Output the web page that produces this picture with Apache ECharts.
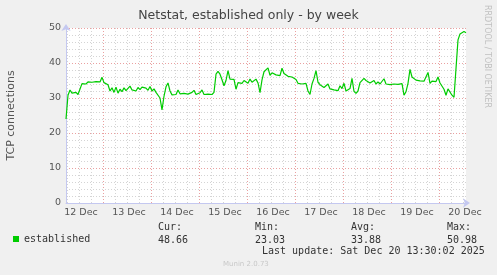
<!DOCTYPE html>
<html>
<head>
<meta charset="utf-8">
<script src="https://cdn.jsdelivr.net/npm/echarts@6.0.0/dist/echarts.min.js"></script>
<style>
html,body{margin:0;padding:0;background:#f0f0f0;}
#chart{width:497px;height:275px;}
</style>
</head>
<body>
<div id="chart"></div>
<script>
// ---- data ----
const seriesName = 'established';
const startTime = new Date(2025, 11, 12, 5, 30).getTime(); // first sample
const stepMs = 3600 * 1000; // one sample per hour
const endTime = new Date(2025, 11, 20, 13, 30).getTime();
const monthNames = ['Jan','Feb','Mar','Apr','May','Jun','Jul','Aug','Sep','Oct','Nov','Dec'];
const yTicks = [0, 10, 20, 30, 40, 50];
const established = [
  24.0, 30.8, 32.3, 31.4, 30.9, 31.6, 31.0, 31.3, 34.1, 34.4,
  34.0, 34.6, 34.2, 34.5, 34.0, 34.7, 34.3, 34.6, 35.9, 34.4,
  34.3, 33.8, 32.0, 32.9, 31.6, 33.1, 31.4, 32.5, 31.8, 32.9,
  32.1, 32.6, 33.4, 32.3, 32.8, 32.0, 33.0, 32.4, 33.1, 32.6,
  32.8, 32.2, 33.3, 32.0, 32.6, 31.6, 31.9, 30.0, 26.6, 30.5,
  33.2, 34.3, 32.0, 30.9, 31.2, 31.0, 32.3, 31.2, 31.6, 31.3,
  31.5, 31.1, 31.3, 31.6, 32.2, 31.0, 31.3, 31.5, 32.3, 31.0,
  31.4, 31.1, 31.3, 31.0, 31.6, 36.8, 37.6, 36.8, 35.2, 33.5,
  35.0, 37.8, 35.4, 35.0, 35.3, 32.5, 34.4, 34.8, 34.2, 35.0,
  34.6, 34.2, 35.4, 34.5, 34.8, 35.4, 34.3, 31.5, 35.2, 37.5,
  38.0, 38.6, 36.5, 37.2, 37.5, 36.6, 37.0, 36.4, 38.5, 37.0,
  36.8, 36.2, 36.6, 36.0, 36.5, 35.3, 34.2, 34.6, 34.0, 34.5,
  34.2, 32.0, 31.0, 34.0, 35.6, 37.8, 34.5, 33.8, 34.2, 33.0,
  32.6, 34.0, 32.6, 33.0, 32.3, 32.8, 32.1, 33.5, 32.7, 34.2,
  32.0, 31.6, 32.7, 35.6, 31.9, 31.3, 32.0, 34.4, 34.8, 35.6,
  35.0, 34.6, 34.3, 34.8, 35.0, 34.0, 34.6, 34.0, 33.9, 35.5,
  34.0, 34.2, 33.8, 34.1, 34.0, 34.3, 33.9, 34.4, 34.1, 30.8,
  31.8, 34.2, 38.2, 36.0, 36.3, 35.1, 34.6, 34.9, 34.4, 34.8,
  34.5, 37.3, 34.2, 34.8, 34.4, 34.7, 36.0, 34.3, 34.0, 32.5,
  30.8, 32.6, 32.2, 30.8, 30.2, 29.7, 46.6, 48.3, 48.6, 49.0, 48.66
];
const statLabels = ['Cur:', 'Min:', 'Avg:', 'Max:'];
const statValues = ['48.66', '23.03', '33.88', '50.98'];
const lastUpdate = 'Last update: Sat Dec 20 13:30:02 2025';
const titleText = 'Netstat, established only - by week';
const yAxisTitle = 'TCP connections';
const sideText = 'RRDTOOL / TOBI OETIKER';
const footerText = 'Munin 2.0.73';

// ---- build ----
const points = established.map((v, i) => [startTime + i * stepMs, v]);
// half-hour slots across the time range, used only to place grid lines and day labels
const halfHour = stepMs / 2;
const slots = [];
for (let t = startTime; t <= endTime; t += halfHour) slots.push(t);
const hourOf = (t) => new Date(t).getHours();
const minOf = (t) => new Date(t).getMinutes();
const isSixHour = (i) => minOf(slots[i]) === 0 && hourOf(slots[i]) % 6 === 0;
const isMidnight = (i) => minOf(slots[i]) === 0 && hourOf(slots[i]) === 0;
const isNoon = (i) => minOf(slots[i]) === 0 && hourOf(slots[i]) === 12;

const axisColor = '#c4c8f0';
const textColor = '#555555';
const mono = '"DejaVu Sans Mono", monospace';
const sans = '"DejaVu Sans", sans-serif';
const statX = [158, 255, 351, 447];

const graphics = [];
statLabels.forEach((t, i) => {
  graphics.push({type:'text', x: statX[i], y: 227, style:{text: t, font: '10px ' + mono, fill:'#333', textVerticalAlign:'middle'}});
  graphics.push({type:'text', x: statX[i], y: 240, style:{text: statValues[i], font: '10px ' + mono, fill:'#333', textVerticalAlign:'middle'}});
});
graphics.push({type:'text', x: 262, y: 251, style:{text: lastUpdate, font: '10px ' + mono, fill:'#333', textVerticalAlign:'middle'}});
graphics.push({type:'text', x: 223, y: 264, style:{text: footerText, font: '7px ' + sans, fill:'#c8c8c8', textVerticalAlign:'middle'}});
graphics.push({type:'text', x: 487, y: 5, rotation: -Math.PI/2, style:{text: sideText, font: '8px ' + sans, fill:'#c0c0c0', textAlign:'left', textVerticalAlign:'middle'}});

const chart = echarts.init(document.getElementById('chart'), null, {renderer:'canvas'});
chart.setOption({
  backgroundColor: '#f0f0f0',
  animation: false,
  title: {
    text: titleText, left: 'center', top: 4,
    textStyle: {fontFamily: sans, fontSize: 12.5, fontWeight: 'normal', color: '#444'}
  },
  legend: {
    data: [seriesName], left: 13, top: 234, padding: 0,
    icon: 'rect', itemWidth: 6, itemHeight: 6,
    textStyle: {fontFamily: mono, fontSize: 10, color: '#333'}
  },
  grid: {left: 66, top: 28, width: 400, height: 175, show: true, backgroundColor: '#ffffff', borderWidth: 0,
         containLabel: false, outerBoundsMode: 'none'},
  xAxis: [{
    // data axis
    type: 'time', min: startTime, max: endTime,
    axisLine: {show: true, lineStyle: {color: axisColor, width: 1}, symbol: ['none', 'arrow'], symbolSize: [7, 7], symbolOffset: [0, 4]},
    axisTick: {show: false}, axisLabel: {show: false}, splitLine: {show: false}
  }, {
    // 6-hour minor grid and day labels
    type: 'category', data: slots, boundaryGap: false, position: 'bottom',
    axisLine: {show: false}, axisTick: {show: false},
    splitLine: {show: true, interval: (i) => isSixHour(i), lineStyle: {color: '#d4d4d4', type: [1, 2], width: 1}},
    axisLabel: {
      show: true, interval: (i) => isNoon(i), margin: 5, color: textColor, fontFamily: sans, fontSize: 9.5,
      hideOverlap: false, padding: [0, 0, 0, 4],
      formatter: function (value) {
        const d = new Date(Number(value));
        return d.getDate() + ' ' + monthNames[d.getMonth()];
      }
    }
  }, {
    // day boundaries (major grid)
    type: 'category', data: slots, boundaryGap: false, position: 'bottom',
    axisLine: {show: false}, axisTick: {show: false}, axisLabel: {show: false},
    splitLine: {show: true, interval: (i) => isMidnight(i), lineStyle: {color: '#eaa0a0', type: [1, 2], width: 1}}
  }],
  yAxis: {
    type: 'value', min: yTicks[0], max: yTicks[yTicks.length - 1], interval: 10,
    name: yAxisTitle, nameLocation: 'middle', nameGap: 49, nameRotate: 90,
    nameTextStyle: {fontFamily: sans, fontSize: 11, color: textColor},
    axisLine: {show: true, lineStyle: {color: axisColor, width: 1}, symbol: ['none', 'arrow'], symbolSize: [7, 7], symbolOffset: [0, 4]},
    axisTick: {show: false},
    axisLabel: {margin: 5, color: textColor, fontFamily: sans, fontSize: 9.5},
    splitLine: {show: true, showMinLine: false, lineStyle: {color: '#eaa0a0', type: [1, 2], width: 1}},
    minorTick: {show: false, splitNumber: 5},
    minorSplitLine: {show: true, lineStyle: {color: '#d4d4d4', type: [1, 2], width: 1}}
  },
  series: [{
    name: seriesName, type: 'line', xAxisIndex: 0, data: points,
    showSymbol: false, symbol: 'none', color: '#00cc00',
    lineStyle: {color: '#00cc00', width: 1.2}, z: 5
  }],
  graphic: graphics
});
</script>
</body>
</html>
